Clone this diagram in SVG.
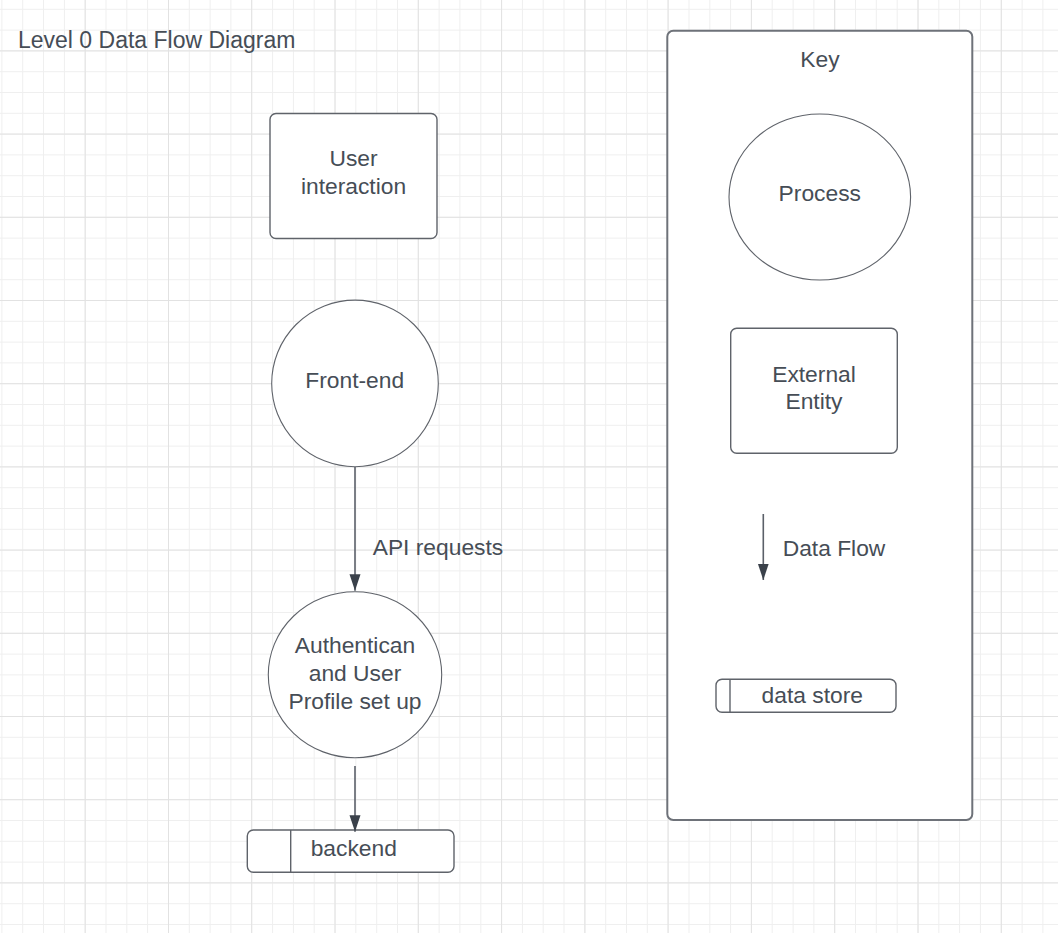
<svg xmlns="http://www.w3.org/2000/svg" width="1058" height="940" viewBox="0 0 1058 940">
<defs>
<style>
.minor{stroke:#efefef;stroke-width:1;fill:none}
.major{stroke:#e2e2e2;stroke-width:1;fill:none}
.shape{fill:#ffffff;stroke:#5f636a;stroke-width:1.4}
.circ{fill:#ffffff;stroke:#5f636a;stroke-width:1.1}
.key{fill:#ffffff;stroke:#6e7279;stroke-width:2}
.t{font-family:"Liberation Sans",Arial,sans-serif;font-size:22.8px;fill:#464d56}
.c{text-anchor:middle}
.flow{stroke:#5b6069;stroke-width:1.6;fill:none}
</style>
<marker id="arr" markerWidth="17" markerHeight="12" refX="16.5" refY="6" orient="auto" markerUnits="userSpaceOnUse" viewBox="0 0 17 12">
<path d="M0,0.5 L16.5,6 L0,11.5 Z" fill="#3a414a"/>
</marker>
</defs>
<rect width="1058" height="940" fill="#ffffff"/>
<g id="grid">
<path class="minor" d="M1.9,0V933M22.7,0V933M43.5,0V933M64.4,0V933M85.2,0V933M106,0V933M126.8,0V933M147.6,0V933M168.5,0V933M189.3,0V933M210.1,0V933M230.9,0V933M251.7,0V933M272.6,0V933M293.4,0V933M314.2,0V933M335,0V933M355.8,0V933M376.7,0V933M397.5,0V933M418.3,0V933M439.1,0V933M459.9,0V933M480.8,0V933M501.6,0V933M522.4,0V933M543.2,0V933M564,0V933M584.9,0V933M605.7,0V933M626.5,0V933M647.3,0V933M668.1,0V933M689,0V933M709.8,0V933M730.6,0V933M751.4,0V933M772.2,0V933M793.1,0V933M813.9,0V933M834.7,0V933M855.5,0V933M876.3,0V933M897.2,0V933M918,0V933M938.8,0V933M959.6,0V933M980.4,0V933M1001.3,0V933M1022.1,0V933M1042.9,0V933"/>
<path class="minor" d="M0,9.3H1058M0,30.1H1058M0,50.9H1058M0,71.7H1058M0,92.5H1058M0,113.3H1058M0,134.1H1058M0,154.9H1058M0,175.7H1058M0,196.5H1058M0,217.3H1058M0,238.1H1058M0,258.9H1058M0,279.7H1058M0,300.5H1058M0,321.3H1058M0,342.1H1058M0,362.9H1058M0,383.7H1058M0,404.5H1058M0,425.3H1058M0,446.1H1058M0,466.9H1058M0,487.7H1058M0,508.5H1058M0,529.3H1058M0,550.1H1058M0,570.9H1058M0,591.7H1058M0,612.5H1058M0,633.3H1058M0,654.1H1058M0,674.9H1058M0,695.7H1058M0,716.5H1058M0,737.3H1058M0,758.1H1058M0,778.9H1058M0,799.7H1058M0,820.5H1058M0,841.3H1058M0,862.1H1058M0,882.9H1058M0,903.7H1058M0,924.5H1058"/>
<path class="major" d="M85.2,0V933M168.5,0V933M251.7,0V933M335,0V933M418.3,0V933M501.6,0V933M584.9,0V933M668.1,0V933M751.4,0V933M834.7,0V933M918,0V933M1001.3,0V933M0,50.9H1058M0,134.1H1058M0,217.3H1058M0,300.5H1058M0,383.7H1058M0,466.9H1058M0,550.1H1058M0,633.3H1058M0,716.5H1058M0,799.7H1058M0,882.9H1058"/>
</g>
<g id="title">
<text class="t" x="18" y="48.3" style="font-size:23px">Level 0 Data Flow Diagram</text>
</g>
<g id="key">
<rect class="key" x="667.3" y="30.7" width="305" height="789.3" rx="6"/>
<text class="t c" x="820" y="66.7">Key</text>
</g>
<g id="key-process">
<ellipse class="circ" cx="819.8" cy="197" rx="90.8" ry="83"/>
<text class="t c" x="819.8" y="201">Process</text>
</g>
<g id="key-external-entity">
<rect class="shape" x="730.7" y="328.3" width="166.6" height="125" rx="6"/>
<text class="t c" x="814" y="381.7">External</text>
<text class="t c" x="814" y="409.3">Entity</text>
</g>
<g id="key-data-flow">
<line class="flow" x1="763.3" y1="514" x2="763.3" y2="580" marker-end="url(#arr)"/>
<text class="t" x="782.7" y="555.7">Data Flow</text>
</g>
<g id="key-data-store">
<rect class="shape" x="716" y="679.3" width="180" height="33" rx="6"/>
<line class="shape" x1="730" y1="679.3" x2="730" y2="712.3"/>
<text class="t c" x="812.3" y="702.7">data store</text>
</g>
<g id="user-interaction">
<rect class="shape" x="270" y="113.5" width="167" height="125" rx="6"/>
<text class="t c" x="353.5" y="166">User</text>
<text class="t c" x="353.5" y="194">interaction</text>
</g>
<g id="front-end">
<circle class="circ" cx="355" cy="383.4" r="83.3"/>
<text class="t c" x="354.7" y="388.3">Front-end</text>
</g>
<g id="auth">
<ellipse class="circ" cx="355" cy="674.7" rx="86.7" ry="83"/>
<text class="t c" x="355" y="653.3">Authentican</text>
<text class="t c" x="355" y="681">and User</text>
<text class="t c" x="355" y="709">Profile set up</text>
</g>
<g id="backend">
<rect class="shape" x="247.3" y="830" width="206.7" height="42.3" rx="6"/>
<line class="shape" x1="290.7" y1="830" x2="290.7" y2="872.3"/>
<text class="t" x="310.7" y="856">backend</text>
</g>
<g id="connectors">
<line class="flow" x1="355" y1="467" x2="355" y2="590.7" marker-end="url(#arr)"/>
<text class="t" x="372.7" y="555">API requests</text>
<line class="flow" x1="355" y1="766" x2="355" y2="831.7" marker-end="url(#arr)"/>
</g>
</svg>
